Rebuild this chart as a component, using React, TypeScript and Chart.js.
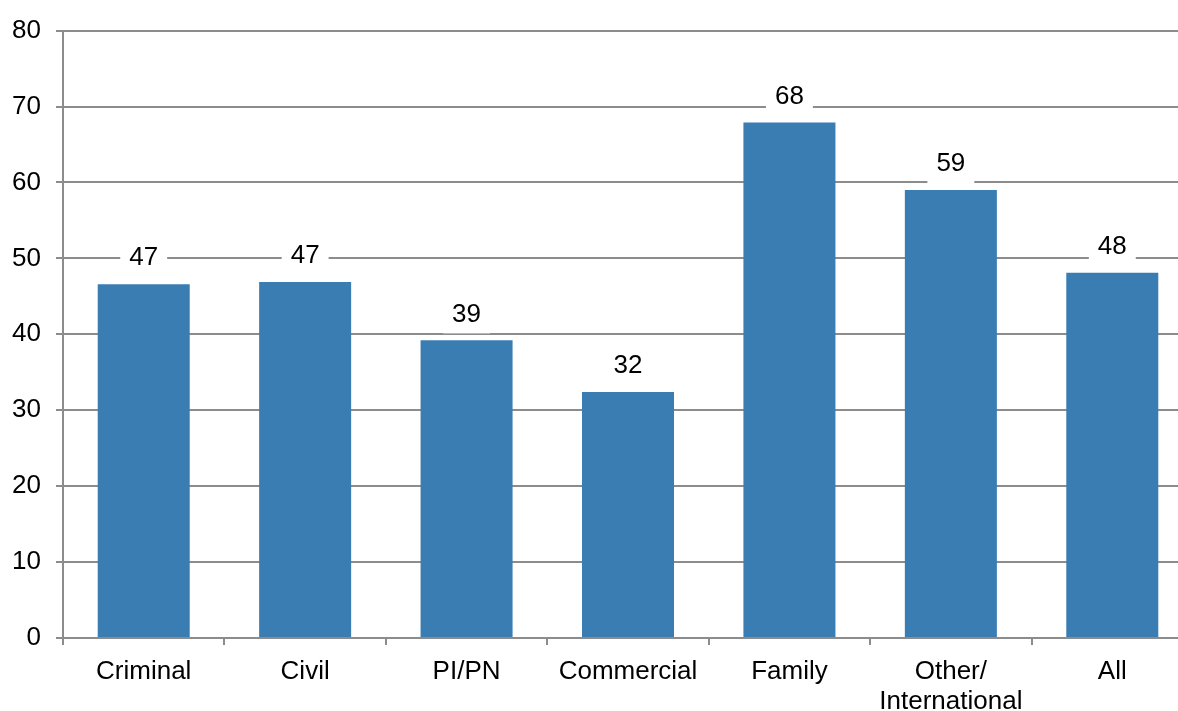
import React, { useEffect, useRef } from "react";
import { Chart, registerables } from "chart.js";

Chart.register(...registerables);

const categories: (string | string[])[] = [
  "Criminal",
  "Civil",
  "PI/PN",
  "Commercial",
  "Family",
  ["Other/", "International"],
  "All",
];
const values: number[] = [46.6, 46.9, 39.2, 32.4, 67.9, 59.0, 48.1];
const valueLabels: string[] = ["47", "47", "39", "32", "68", "59", "48"];
const yTicks: number[] = [0, 10, 20, 30, 40, 50, 60, 70, 80];

const FONT = "'Liberation Sans', Arial, sans-serif";
const GRID = "#8c8c8c";
const BAR = "#3a7db3";

const labelPlugin = {
  id: "valueLabels",
  afterDatasetsDraw(chart: any) {
    const ctx = chart.ctx;
    const meta = chart.getDatasetMeta(0);
    ctx.save();
    ctx.font = `26px ${FONT}`;
    ctx.textAlign = "center";
    ctx.textBaseline = "middle";
    meta.data.forEach((bar: any, i: number) => {
      const text = valueLabels[i];
      const w = ctx.measureText(text).width;
      const cx = bar.x;
      const cy = bar.y - 26;
      ctx.fillStyle = "#ffffff";
      ctx.fillRect(cx - w / 2 - 9, cy - 19, w + 18, 38);
      ctx.fillStyle = "#000000";
      ctx.fillText(text, cx, cy);
    });
    ctx.restore();
  },
};

export default function App() {
  const ref = useRef<HTMLCanvasElement>(null);
  useEffect(() => {
    document.body.style.margin = "0";
    document.body.style.overflow = "hidden";
    const chart = new Chart(ref.current!, {
      type: "bar",
      data: {
        labels: categories,
        datasets: [
          {
            data: values,
            backgroundColor: BAR,
            barPercentage: 0.57,
            categoryPercentage: 1,
          },
        ],
      },
      options: {
        responsive: false,
        animation: false,
        layout: { padding: { top: 30, right: 1, left: 0, bottom: 0 } },
        plugins: { legend: { display: false }, tooltip: { enabled: false } },
        scales: {
          x: {
            offset: true,
            grid: {
              offset: true,
              drawOnChartArea: false,
              drawTicks: true,
              tickLength: 7,
              color: GRID,
              lineWidth: 2,
            },
            border: { color: GRID, width: 2 },
            ticks: {
              color: "#000",
              font: { family: FONT, size: 26, lineHeight: 1.15 },
              padding: 12,
              maxRotation: 0,
              autoSkip: false,
            },
            afterFit: (s: any) => {
              s.height = 73;
            },
          },
          y: {
            min: 0,
            max: 80,
            afterBuildTicks: (s: any) => {
              s.ticks = yTicks.map((v) => ({ value: v }));
            },
            grid: {
              color: GRID,
              lineWidth: 2,
              tickLength: 7,
            },
            border: { color: GRID, width: 2 },
            ticks: {
              color: "#000",
              font: { family: FONT, size: 26 },
              padding: 15,
            },
            afterFit: (s: any) => {
              s.width = 63;
            },
          },
        },
      },
      plugins: [labelPlugin],
    });
    return () => chart.destroy();
  }, []);
  return (
    <div style={{ width: 1178, height: 711, overflow: "hidden", background: "#fff" }}>
      <canvas ref={ref} width={1194} height={711} style={{ display: "block" }} />
    </div>
  );
}
